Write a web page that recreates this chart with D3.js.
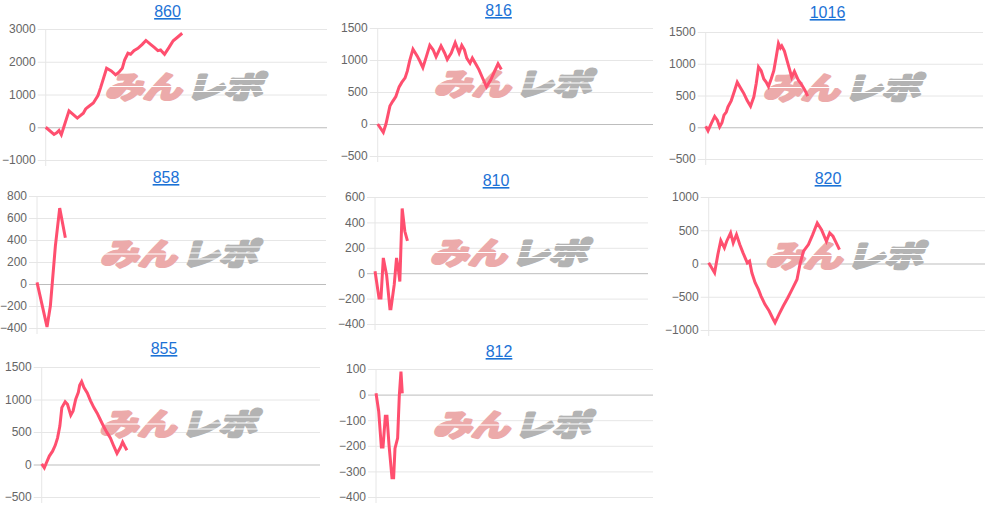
<!DOCTYPE html>
<meta charset="utf-8">
<script src="https://d3js.org/d3.v7.min.js"></script>
<style>
body { margin: 0; background: #fff; }
</style>
<body>
<div id="charts"></div>
<script>

// machine numbers (chart titles)
var titles = ["860", "816", "1016", "858", "810", "820", "855", "812"]

// [games, coin difference]
var series860 = [[0,0],[266,-220],[351,-170],[426,-100],[500,-230],[746,500],[1012,280],[1118,360],[1203,430],[1278,560],[1385,640],[1523,740],[1672,970],[1757,1210],[1949,1800],[2098,1720],[2237,1600],[2343,1680],[2450,1800],[2524,2050],[2631,2260],[2716,2230],[2822,2340],[2950,2410],[3089,2530],[3206,2650],[3355,2530],[3483,2430],[3589,2340],[3674,2360],[3802,2230],[3941,2430],[4079,2640],[4207,2740],[4367,2870]]
var series816 = [[0,0],[183,-130],[270,0],[399,280],[485,350],[593,430],[701,580],[787,650],[895,720],[970,830],[1046,990],[1153,1170],[1294,1060],[1380,980],[1477,880],[1595,1060],[1703,1230],[1811,1160],[1908,1050],[1994,1140],[2070,1220],[2188,1110],[2274,1010],[2404,1110],[2533,1270],[2662,1110],[2749,1230],[2835,1160],[2911,1030],[3018,950],[3094,1030],[3202,940],[3309,850],[3417,730],[3557,580],[3697,690],[3827,830],[3934,940],[4042,850]]
var series1016 = [[0,15],[75,-55],[183,60],[291,170],[377,110],[453,5],[528,70],[593,190],[668,240],[722,320],[830,420],[938,580],[1024,710],[1132,620],[1240,530],[1347,420],[1455,330],[1563,480],[1639,690],[1714,950],[1800,890],[1886,760],[1962,710],[2037,640],[2124,760],[2210,890],[2285,1100],[2361,1320],[2425,1250],[2469,1280],[2555,1200],[2641,1050],[2717,920],[2792,790],[2878,880],[2932,820],[3008,740],[3116,670],[3223,580],[3310,490]]
var series858 = [[0,15],[311,-390],[415,-200],[571,345],[706,690],[882,420]]
var series810 = [[0,15],[131,-195],[196,-195],[273,120],[382,-15],[491,-280],[524,-280],[633,-90],[709,120],[764,40],[818,-65],[895,510],[982,330],[1069,255]]
var series820 = [[0,10],[192,-140],[298,135],[394,345],[511,235],[586,335],[714,460],[799,310],[905,435],[1012,285],[1118,160],[1257,10],[1331,35],[1406,-140],[1512,-290],[1619,-390],[1704,-490],[1832,-615],[1970,-715],[2077,-815],[2162,-890],[2290,-765],[2428,-640],[2577,-515],[2716,-390],[2876,-240],[2982,10],[3089,185],[3248,285],[3387,435],[3536,610],[3674,510],[3834,335],[3941,460],[4047,410],[4154,310],[4260,210]]
var series855 = [[0,10],[85,-50],[160,35],[246,130],[352,205],[438,295],[513,410],[587,590],[651,875],[758,965],[833,925],[940,760],[1015,825],[1100,1005],[1185,1110],[1228,1220],[1292,1275],[1367,1185],[1474,1100],[1580,980],[1687,875],[1794,790],[1901,685],[2008,580],[2114,490],[2221,410],[2328,285],[2435,170],[2542,260],[2617,345],[2681,285],[2755,220]]
var series812 = [[0,5],[86,-65],[173,-205],[227,-205],[302,-85],[356,-85],[421,-195],[518,-325],[572,-325],[616,-210],[702,-170],[756,-5],[810,90],[853,5]]

// y tick labels
var ticks860 = [-1000, 0, 1000, 2000, 3000]
var ticks816 = [-500, 0, 500, 1000, 1500]
var ticks1016 = [-500, 0, 500, 1000, 1500]
var ticks858 = [-400, -200, 0, 200, 400, 600, 800]
var ticks810 = [-400, -200, 0, 200, 400, 600]
var ticks820 = [-1000, -500, 0, 500, 1000]
var ticks855 = [-500, 0, 500, 1000, 1500]
var ticks812 = [-400, -300, -200, -100, 0, 100]

var maxGames = 9000

var allSeries = [series860, series816, series1016, series858, series810, series820, series855, series812]
var allTicks = [ticks860, ticks816, ticks1016, ticks858, ticks810, ticks820, ticks855, ticks812]

// panel boxes: left, right, title baseline, plot top, plot bottom
var boxes = [
  [5, 330, 17, 29, 160], [341, 656, 16, 28, 156], [669, 986, 18, 32, 159],
  [3, 329, 183, 196, 328], [341, 651, 186, 197, 324], [668, 988, 184, 197, 330],
  [5, 323, 354, 367, 497], [342, 656, 357, 369, 497]
]

var width = 994
var height = 507
var font = "Arial, 'Liberation Sans', sans-serif"
var wmFont = "bold 30px 'Noto Sans CJK JP', sans-serif"

var svg = d3.select("#charts")
  .append("svg")
    .attr("width", width)
    .attr("height", height)

titles.forEach(function(title, i) {
  var box = boxes[i]
  var ticks = allTicks[i]
  var g = svg.append("g")

  // measure widest tick label
  var probe = g.append("text").style("font", "12px " + font)
  var labelW = d3.max(ticks, function(t) {
    probe.text(t)
    return probe.node().getComputedTextLength()
  })
  probe.remove()

  var left = box[0] + labelW + 10
  var right = box[1] - 3

  var x = d3.scaleLinear().domain([0, maxGames]).range([left, right])
  var y = d3.scaleLinear().domain(d3.extent(ticks)).range([box[4], box[3]])

  // title
  g.append("text")
    .attr("x", (box[0] + box[1]) / 2)
    .attr("y", box[2])
    .attr("text-anchor", "middle")
    .attr("fill", "#1c72d6")
    .style("font", "16px " + font)
    .style("text-decoration", "underline")
    .text(title)

  // grid + y axis
  g.append("g")
    .attr("transform", "translate(" + left + ",0)")
    .call(d3.axisLeft(y).tickValues(ticks).tickSize(-(right - left)).tickPadding(10).tickFormat(d3.format("d")))
    .call(function(a) { a.select(".domain").remove() })
    .call(function(a) {
      a.selectAll(".tick line")
        .attr("x1", -8)
        .attr("stroke", function(d) { return d === 0 ? "#bdbdbd" : "#e6e6e6" })
    })
    .call(function(a) {
      a.selectAll(".tick text")
        .attr("fill", "#666")
        .style("font", "12px " + font)
    })

  g.append("line")
    .attr("x1", left).attr("x2", left)
    .attr("y1", box[3]).attr("y2", box[4] + 6)
    .attr("stroke", "#e6e6e6")

  // watermark
  var wx = (left + right) / 2
  var wy = (box[3] + box[4]) / 2 - 9
  var wm = g.append("g")
    .attr("transform", "translate(" + wx + "," + wy + ") skewX(-16)")
  wm.append("text")
    .attr("x", -78).attr("y", 12)
    .attr("textLength", 76).attr("lengthAdjust", "spacingAndGlyphs")
    .attr("fill", "#ecaaaa").attr("stroke", "#ecaaaa").attr("stroke-width", 3.2)
    .attr("stroke-linejoin", "round")
    .style("font", wmFont)
    .text("みん")
  wm.append("text")
    .attr("x", 3).attr("y", 12)
    .attr("textLength", 76).attr("lengthAdjust", "spacingAndGlyphs")
    .attr("fill", "#b3b3b3").attr("stroke", "#b3b3b3").attr("stroke-width", 3.2)
    .attr("stroke-linejoin", "round")
    .style("font", wmFont)
    .text("レポ")
  ;[-6, 0, 6].forEach(function(s) {
    wm.append("line")
      .attr("x1", 0).attr("x2", 84)
      .attr("y1", s).attr("y2", s)
      .attr("stroke", "#fff").attr("stroke-width", 1.2)
  })
  wm.append("line")
    .attr("x1", -82).attr("x2", 0)
    .attr("y1", 1).attr("y2", 1)
    .attr("stroke", "#fff").attr("stroke-width", 1.2)

  // line
  var line = d3.line()
    .x(function(d) { return x(d[0]) })
    .y(function(d) { return y(d[1]) })

  g.append("path")
    .datum(allSeries[i])
    .attr("d", line)
    .attr("fill", "none")
    .attr("stroke", "#ff4f6f")
    .attr("stroke-width", 3)
    .attr("stroke-linejoin", "miter")
})

</script>
</body>
